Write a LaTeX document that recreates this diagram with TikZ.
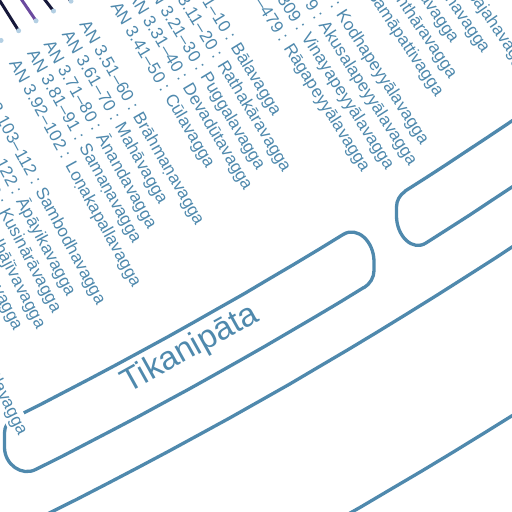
\documentclass[tikz,border=0pt]{standalone}
\usepackage{fontspec}
\setmainfont{Liberation Sans}
\definecolor{sb}{HTML}{4F89AD}
\definecolor{lb}{HTML}{B3CFE3}
\definecolor{nv}{HTML}{16183A}
\definecolor{pu}{HTML}{6B4A9F}
\begin{document}
\begin{tikzpicture}[x=1pt,y=-1pt,
  lab/.style={anchor=west,inner sep=0pt,text=sb,font=\fontsize{17.2}{17.2}\selectfont},
  ring/.style={draw=sb,line width=3.3pt},
  linkline/.style={line width=3pt,line cap=round},
  dotmark/.style={circle,fill=lb,inner sep=0pt,minimum size=5pt}]
\useasboundingbox (0,0) rectangle (512,512);
\clip (0,0) rectangle (512,512);
% outer arcs
\draw[ring] plot[domain=50:67,samples=40] ({-1981+4545*cos(\x)},{-3553+4545*sin(\x)});
\draw[ring] plot[domain=50:67,samples=40] ({-1981+4687*cos(\x)},{-3553+4687*sin(\x)});
% Tikanipata box
\draw[ring,line join=round] plot[domain=63.335:58.461,samples=14] ({-1981+4444*cos(\x)},{-3553+4444*sin(\x)})
  .. controls (357.2,226.1) and (374,241.0) .. (374,261.7) -- (374,270.6)
  .. controls (374,277.4) and (370.1,284.0) .. (363.8,287.8)
  -- plot[domain=58.596:63.372,samples=14] ({-1981+4500*cos(\x)},{-3553+4500*sin(\x)})
  .. controls (21.8,476.7) and (4.5,464.4) .. (4.5,447.3) -- (4.5,432.8)
  .. controls (4.5,426.6) and (7.9,421.1) .. (13.5,418.3) -- cycle;
% Dukanipata box (left end)
\draw[ring,line join=round] plot[domain=54:57.621,samples=12] ({-1981+4495*cos(\x)},{-3553+4495*sin(\x)})
  .. controls (412.8,251.6) and (396.5,236.5) .. (396.5,215.8) -- (396.5,206.9)
  .. controls (396.5,200.7) and (399.8,194.8) .. (405.1,191.4)
  -- plot[domain=57.496:54,samples=12] ({-1981+4440*cos(\x)},{-3553+4440*sin(\x)});
\node[text=sb,font=\fontsize{33}{33}\selectfont,rotate=29.09,inner sep=0pt] (tika)
  at ({-1981+4466*cos(60.91)},{-3553+4466*sin(60.91)}) {Tikanipāta};
% labels
\foreach \a/\t/\n in {
 55.32/{AN 2.118–129 : Āsāduppajahavagga}/a1,
 55.60/{AN 2.130–140 : Āyācanavagga}/a2,
 55.88/{AN 2.141–150 : Dānavagga}/a3,
 56.16/{AN 2.151–162 : Santhāravagga}/a4,
 56.44/{AN 2.163–179 : Samāpattivagga}/a5,
 56.94/{AN 2.180–229 : Kodhapeyyālavagga}/a6,
 57.22/{AN 2.230–279 : Akusalapeyyālavagga}/a7,
 57.50/{AN 2.280–309 : Vinayapeyyālavagga}/a8,
 57.78/{AN 2.310–479 : Rāgapeyyālavagga}/a9,
 58.38/{AN 3.1–10 : Bālavagga}/b1,
 58.66/{AN 3.11–20 : Rathakāravagga}/b2,
 58.94/{AN 3.21–30 : Puggalavagga}/b3,
 59.22/{AN 3.31–40 : Devadūtavagga}/b4,
 59.50/{AN 3.41–50 : Cūlavagga}/b5,
 60.00/{AN 3.51–60 : Brāhmaṇavagga}/b6,
 60.28/{AN 3.61–70 : Mahāvagga}/b7,
 60.56/{AN 3.71–80 : Ānandavagga}/b8,
 60.84/{AN 3.81–91 : Samaṇavagga}/b9,
 61.12/{AN 3.92–102 : Loṇakapallavagga}/b10,
 61.64/{AN 3.103–112 : Sambodhavagga}/b11,
 61.92/{AN 3.113–122 : Āpāyikavagga}/b12,
 62.20/{AN 3.123–132 : Kusinārāvagga}/b13,
 62.48/{AN 3.133–142 : Yodhājīvavagga}/b14,
 62.76/{AN 3.143–152 : Maṅgalavagga}/b15,
 63.04/{AN 3.153–162 : Acelakavagga}/b16,
 63.60/{AN 3.183–352 : Rāgapeyyālavagga}/b18}
 {\node[lab,rotate=-\a] (\n) at ({-1981+4128*cos(\a)},{-3553+4128*sin(\a)}) {\t};}
\node[lab,rotate=-63.32,fill=white,inner ysep=2.5pt] (b17) at ({-1981+4128*cos(63.32)},{-3553+4128*sin(63.32)}) {AN 3.163–182 : Kammapathapeyyālavagga};
% links
\coordinate (f81) at (-8.5,-12.5);
\coordinate (f71) at (13.7,-11.9);
\coordinate (f61) at (38.6,-8.3);
\coordinate (f51) at (65,-6);
\coordinate (d51) at ({-1981+4104*cos(60.00)},{-3553+4104*sin(60.00)});
\coordinate (d61) at ({-1981+4104*cos(60.28)},{-3553+4104*sin(60.28)});
\coordinate (d71) at ({-1981+4104*cos(60.56)},{-3553+4104*sin(60.56)});
\coordinate (d81) at ({-1981+4104*cos(60.84)},{-3553+4104*sin(60.84)});
\coordinate (d92) at ({-1981+4104*cos(61.12)},{-3553+4104*sin(61.12)});
\draw[linkline,nv] (d81) -- (f81);
\draw[linkline,pu] (d71) -- (f71);
\draw[linkline,nv] (d61) -- (f61);
\draw[linkline,nv] (d51) -- (f51);
\foreach \d in {d51,d61,d71,d81,d92} \node[dotmark] at (\d) {};
\end{tikzpicture}
\end{document}
